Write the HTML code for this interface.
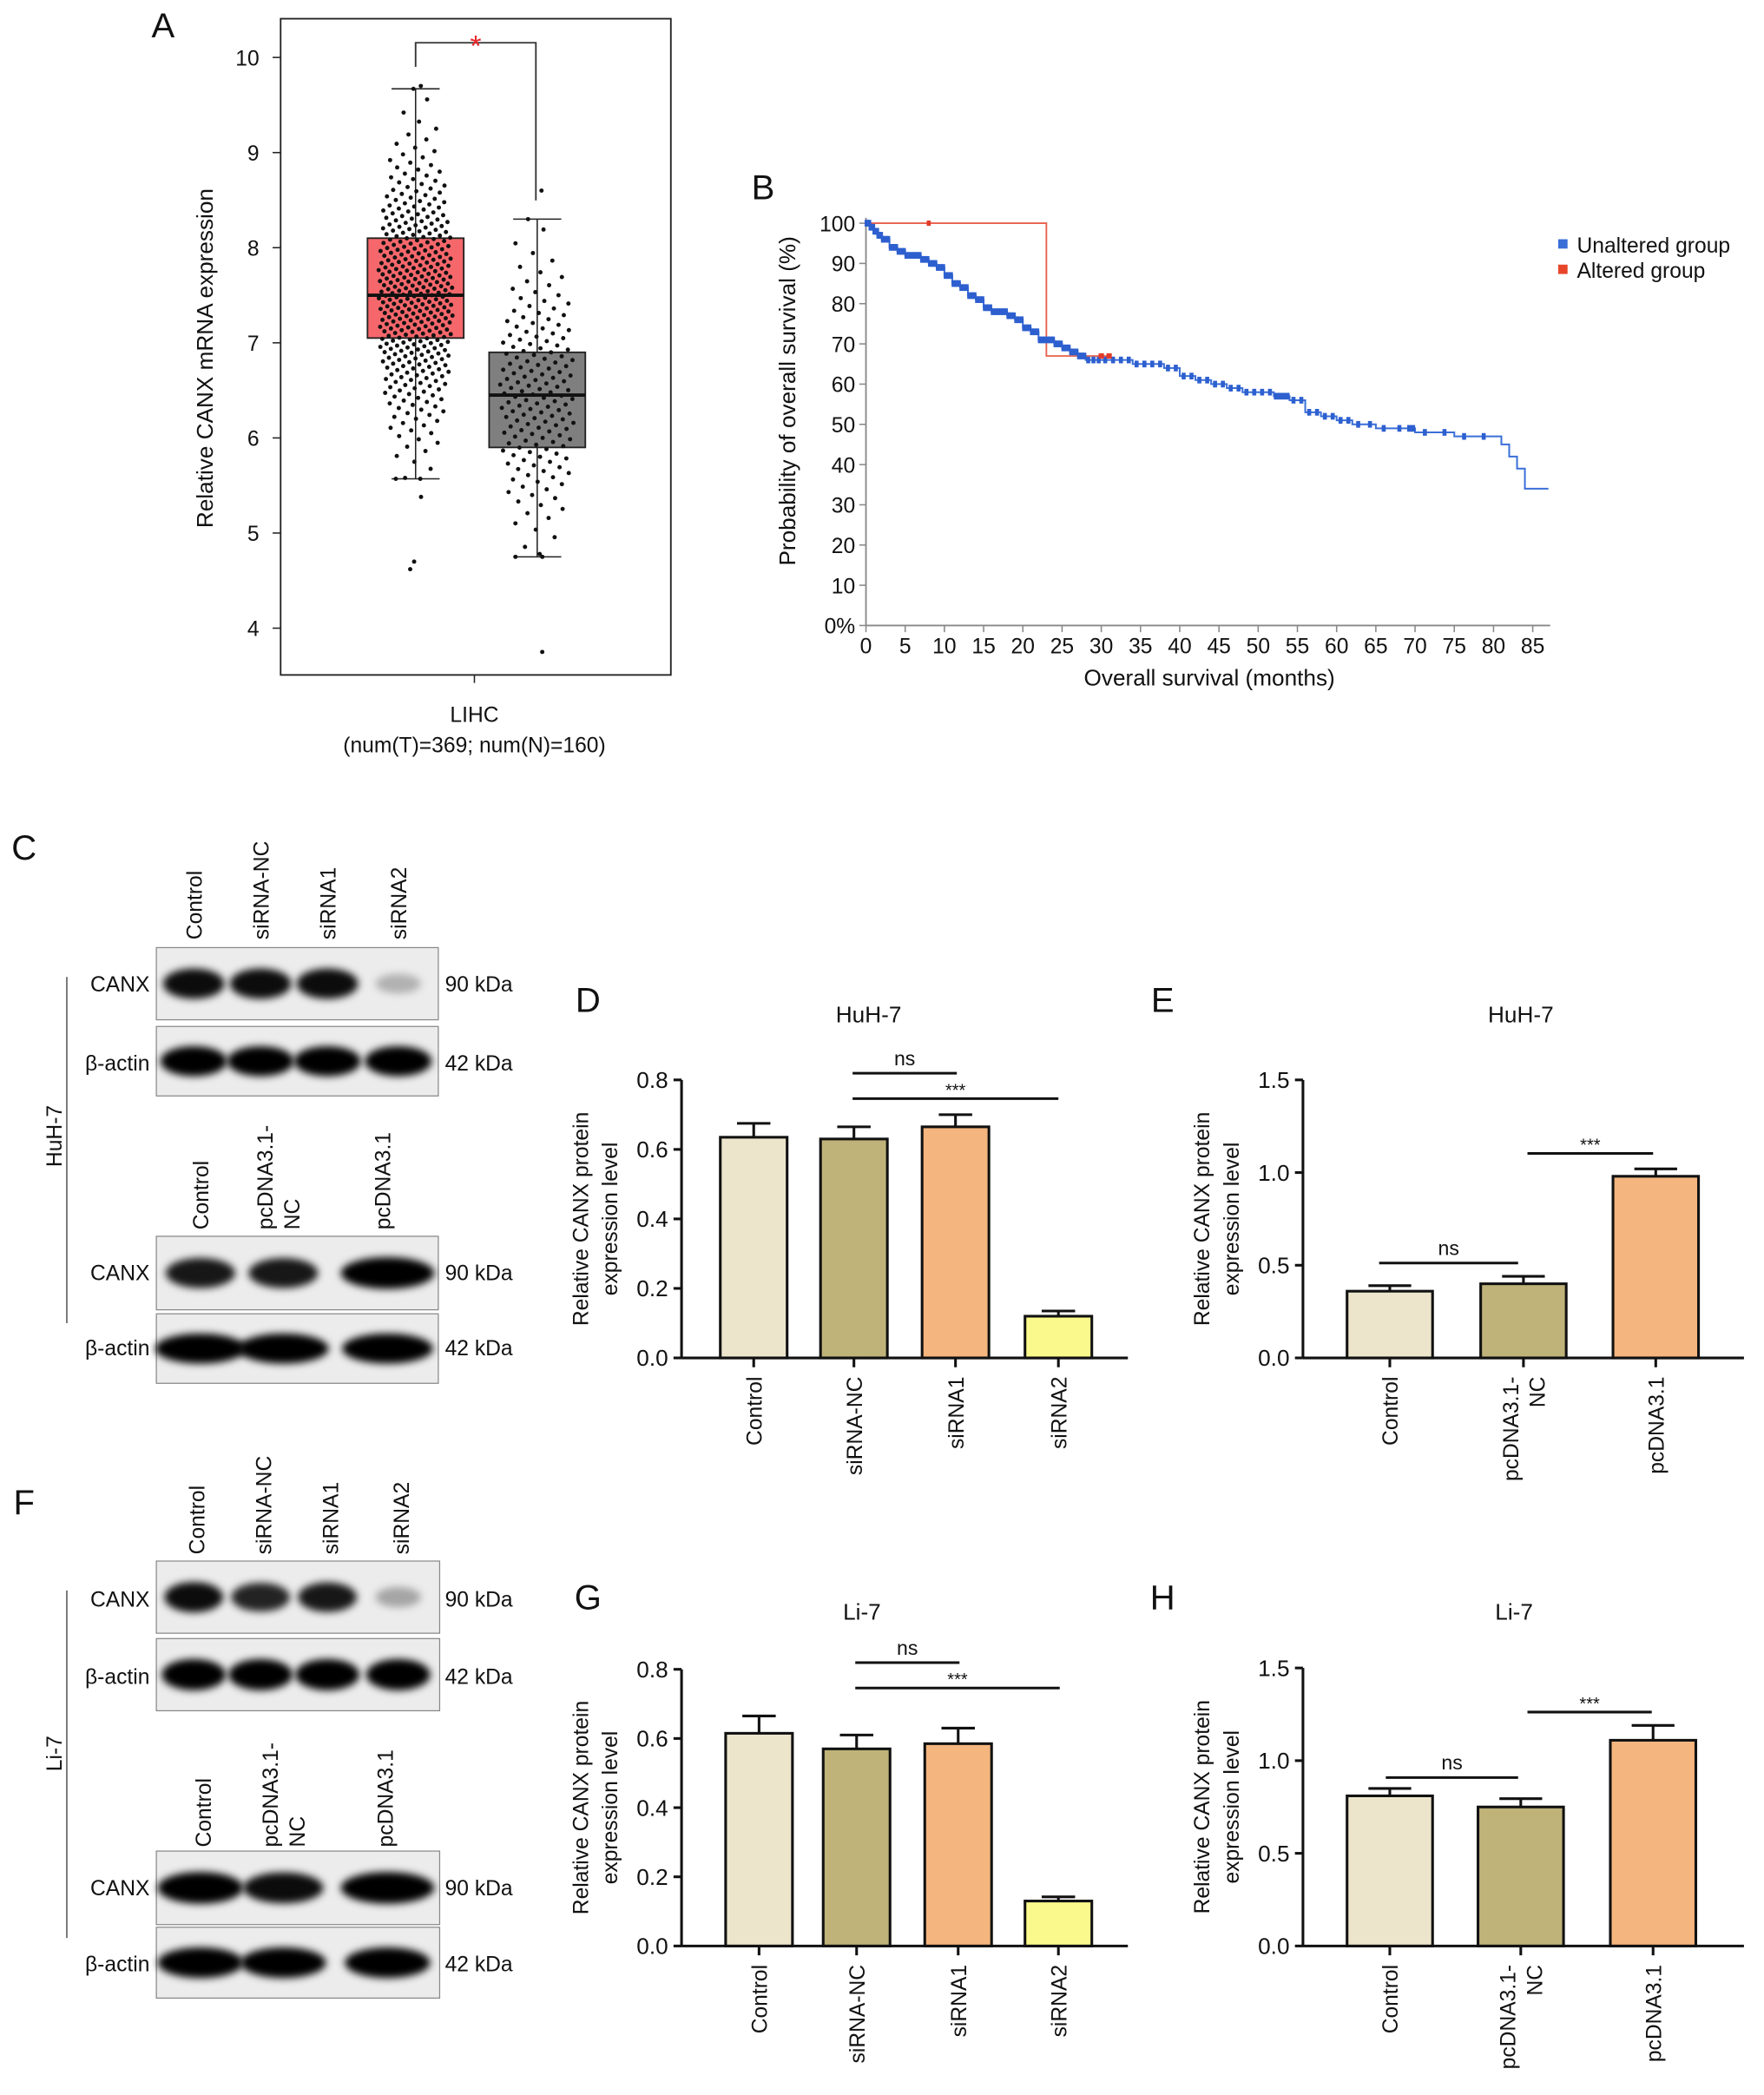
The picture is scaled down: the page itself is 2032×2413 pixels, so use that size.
<!DOCTYPE html>
<html><head><meta charset="utf-8"><style>
html,body{margin:0;padding:0;background:#fff}
svg{display:block;font-family:"Liberation Sans",Arial,sans-serif}
</style></head><body>
<svg id="fig" width="2032" height="2413" viewBox="0 0 1320 1567.5" xmlns="http://www.w3.org/2000/svg">
<defs><filter id="blur" x="-20%" y="-50%" width="140%" height="200%"><feGaussianBlur stdDeviation="3"/></filter></defs>
<rect width="1320" height="1567.5" fill="#fff"/>
<g id="root"></g>
</svg>
<script>
// ---------- Panel A data ----------
const aGroups=["Tumor","Normal"];
const aQ1=[7.05,5.9], aMed=[7.5,6.45], aQ3=[8.1,6.9], aLo=[5.57,4.75], aHi=[9.67,8.3];
const aN=[369,160];
const aOutliers=[[4.7,4.62,5.38,9.7],[3.75,8.6,4.78]];
// ---------- Panel B data ----------
const bMonths=[0,0.5,1,1.5,2,3,4,5,6,7,8,9,10,11,12,13,14,15,16,17,18,19,20,21,22,23,24,25,26,27,28,30,32,34,36,38,40,42,44,46,48,50,52,53,54,56,58,60,62,65,69,70,75,80,81,82,83,84,87];
const bSurv  =[100,99,98,97,96,94,93,92,92,91,90,89,87,85,84,82,81,79,78,78,77,76,74,73,71,71,70,69,68,67,66,66,66,65,65,64,62,61,60,59,58,58,57,57,56,53,52,51,50,49,49,48,47,47,45,42,39,34,34];
const bAltMonths=[0,23,23,31];
const bAltSurv=[100,100,67,67];
// ---------- bar chart data ----------
const dCats=["Control","siRNA-NC","siRNA1","siRNA2"];
const dVals=[0.635,0.63,0.665,0.12], dErr=[0.04,0.035,0.035,0.015];
const eCats=["Control","pcDNA3.1-\nNC","pcDNA3.1"];
const eVals=[0.36,0.40,0.98], eErr=[0.03,0.04,0.04];
const gVals=[0.615,0.57,0.585,0.13], gErr=[0.05,0.04,0.045,0.012];
const hVals=[0.81,0.75,1.11], hErr=[0.04,0.045,0.08];
const dTicks=["0.0","0.2","0.4","0.6","0.8"];
const eTicks=["0.0","0.5","1.0","1.5"];

const NS="http://www.w3.org/2000/svg";
const root=document.getElementById('root');
function el(tag,attrs,parent,text){const e=document.createElementNS(NS,tag);for(const k in attrs)e.setAttribute(k,attrs[k]);if(text!==undefined)e.textContent=text;(parent||root).appendChild(e);return e;}
function txt(x,y,s,size,anchor,parent,extra){const t=el('text',Object.assign({x:x,y:y,'font-size':size,'text-anchor':anchor||'middle',fill:'#111'},extra||{}),parent,s);return t;}

// ===== Panel A =====
const gA=el('g',{});

let t=txt(122,28,"A",26,'middle',gA);
el('rect',{x:210,y:14,width:292,height:491,fill:'none',stroke:'#222','stroke-width':1.2},gA);
const ayA=v=>470-(v-4)*71.17;
for(let v=4;v<=10;v++){el('line',{x1:204,x2:210,y1:ayA(v),y2:ayA(v),stroke:'#222'},gA);t=txt(194,ayA(v)+6,String(v),16,'end',gA);}
t=txt(0,0,"Relative CANX mRNA expression",17,'middle',gA,{transform:'translate(159,268) rotate(-90)'});
el('line',{x1:355,x2:355,y1:505,y2:511,stroke:'#222'},gA);
t=txt(355,540,"LIHC",16,'middle',gA);
t=txt(355,563,"(num(T)="+aN[0]+"; num(N)="+aN[1]+")",16,'middle',gA);
const aCx=[311,402], aFill=['#f6676b','#7f7f7f'];
function qn(p){const a=[2.50662823884,-18.61500062529,41.39119773534,-25.44106049637],b=[-8.47351093090,23.08336743743,-21.06224101826,3.13082909833];const y=p-0.5;if(Math.abs(y)<0.42){const r=y*y;return y*(((a[3]*r+a[2])*r+a[1])*r+a[0])/((((b[3]*r+b[2])*r+b[1])*r+b[0])*r+1);}let r=p<0.5?p:1-p;r=Math.log(-Math.log(r));const c=[0.3374754822726147,0.9761690190917186,0.1607979714918209,0.0276438810333863,0.0038405729373609,0.0003951896511919,0.0000321767881768,0.0000002888167364,0.0000003960315187];let x=c[0]+r*(c[1]+r*(c[2]+r*(c[3]+r*(c[4]+r*(c[5]+r*(c[6]+r*(c[7]+r*c[8])))))));return p<0.5?-x:x;}
aGroups.forEach((g,i)=>{
  const cx=aCx[i];
  const box=el('rect',{x:cx-36,y:ayA(aQ3[i]),width:72,height:ayA(aQ1[i])-ayA(aQ3[i]),fill:aFill[i],stroke:'#222','stroke-width':1.2},gA);
  
  el('line',{x1:cx-36,x2:cx+36,y1:ayA(aMed[i]),y2:ayA(aMed[i]),stroke:'#111','stroke-width':2.5},gA);
  el('line',{x1:cx,x2:cx,y1:ayA(aQ3[i]),y2:ayA(aHi[i]),stroke:'#222'},gA);
  el('line',{x1:cx,x2:cx,y1:ayA(aQ1[i]),y2:ayA(aLo[i]),stroke:'#222'},gA);
  el('line',{x1:cx-18,x2:cx+18,y1:ayA(aHi[i]),y2:ayA(aHi[i]),stroke:'#222'},gA);
  el('line',{x1:cx-18,x2:cx+18,y1:ayA(aLo[i]),y2:ayA(aLo[i]),stroke:'#222'},gA);
  const sd=(aQ3[i]-aQ1[i])/1.35;
  const n=aN[i];
  for(let k=0;k<n;k++){
    let v=aMed[i]+qn((k+0.5)/n)*sd;
    v=Math.max(aLo[i],Math.min(aHi[i],v));
    const jx=((k*0.61803)%1-0.5)*2*28*Math.exp(-Math.pow((v-aMed[i])/(2.2*sd),2)*0.5);
    el('circle',{cx:cx+jx,cy:ayA(v),r:1.6,fill:'#111'},gA);
  }
  aOutliers[i].forEach(v=>{el('circle',{cx:cx+((v*37)%10-5),cy:ayA(v),r:1.6,fill:'#111'},gA);});
});
el('polyline',{points:"311,50 311,32 401,32 401,150",fill:'none',stroke:'#333','stroke-width':1.2},gA);
t=txt(356,42,"*",22,'middle',gA,{fill:'#e8262b'});

// ===== Panel B =====
const gB=el('g',{});

t=txt(571,149,"B",26,'middle',gB);
const bx=m=>648+m*5.87, by=s=>468-s*3.01;
el('line',{x1:648,x2:648,y1:163,y2:468,stroke:'#888','stroke-width':1.2},gB);
el('line',{x1:648,x2:1160,y1:468,y2:468,stroke:'#888','stroke-width':1.2},gB);
for(let s=0;s<=100;s+=10){el('line',{x1:643,x2:648,y1:by(s),y2:by(s),stroke:'#888'},gB);t=txt(640,by(s)+6,s===0?"0%":String(s),16,'end',gB);}
for(let m=0;m<=85;m+=5){el('line',{x1:bx(m),x2:bx(m),y1:468,y2:473,stroke:'#888'},gB);t=txt(bx(m),489,String(m),16,'middle',gB);}
t=txt(905,513,"Overall survival (months)",17,'middle',gB);
t=txt(0,0,"Probability of overall survival (%)",17,'middle',gB,{transform:'translate(595,300) rotate(-90)'});
function stepPts(ms,ss){let p=[];for(let i=0;i<ms.length;i++){if(i>0)p.push(bx(ms[i])+','+by(ss[i-1]));p.push(bx(ms[i])+','+by(ss[i]));}return p.join(' ');}
let ln=el('polyline',{points:stepPts(bAltMonths,bAltSurv),fill:'none',stroke:'#e8604a','stroke-width':1.2},gB);

ln=el('polyline',{points:stepPts(bMonths,bSurv),fill:'none',stroke:'#3a6fd8','stroke-width':1.3},gB);

for(let i=0;i<bMonths.length-1;i++){
  const m0=bMonths[i],m1=bMonths[i+1];const k=m0<30?3:(m0>=80?0:2);
  for(let j=0;j<k;j++){const m=m0+(m1-m0)*(j+0.5)/k;el('rect',{x:bx(m)-1.5,y:by(bSurv[i])-2.5,width:3,height:5,fill:'#2d5fcf'},gB);}
}
el('rect',{x:bx(8)-1.5,y:by(100)-2,width:3,height:4,fill:'#e23b2a'},gB);
el('rect',{x:bx(30)-2,y:by(67)-2,width:4,height:4,fill:'#e23b2a'},gB);
el('rect',{x:bx(31)-2,y:by(67)-2,width:4,height:4,fill:'#e23b2a'},gB);
let lg=el('g',{},gB);
el('rect',{x:1166,y:179,width:7,height:7,fill:'#3a6fd8'},lg);txt(1180,189,"Unaltered group",16,'start',lg);
lg=el('g',{},gB);
el('rect',{x:1166,y:198,width:7,height:7,fill:'#e8462a'},lg);txt(1180,208,"Altered group",16,'start',lg);

// ===== Western blots =====
function blot(name,x,y,w,h,centers,intens,widths){
  const g=el('g',{});
  el('rect',{x:x,y:y,width:w,height:h,fill:'#ececec',stroke:'#888','stroke-width':0.8},g);
  centers.forEach((c,i)=>{el('ellipse',{cx:c,cy:y+h/2,rx:widths[i]/2,ry:h*0.18*(0.6+0.6*intens[i]),fill:'#000','fill-opacity':Math.min(1,intens[i]),filter:'url(#blur)'},g);});
  return g;
}
function rotLabel(x,y,s,name){const g=el('g',{});
  const lines=s.split('\n');lines.forEach((l,i)=>txt(0,0,l,16,'start',g,{transform:`translate(${x+i*20},${y}) rotate(-90)`}));return g;}
function side(y,s,kda){t=txt(112,y+6,s,16,'end');
  t=txt(333,y+6,kda,16,'start');}
t=txt(18,643,"C",26,'middle');
t=txt(18,1133,"F",26,'middle');
const c4=[145,195,245,298], c3=[150,212,290];
[["Control",0],["siRNA-NC",1],["siRNA1",2],["siRNA2",3]].forEach(([s,i])=>{rotLabel(c4[i]+6,703,s,'lane-label');rotLabel(c4[i]+8,1163,s,'lane-label');});
rotLabel(c3[0]+6,920,"Control",'lane-label');rotLabel(c3[1]-8,920,"pcDNA3.1-\nNC",'lane-label');rotLabel(c3[2]+2,920,"pcDNA3.1",'lane-label');
rotLabel(c3[0]+8,1382,"Control",'lane-label');rotLabel(c3[1]-4,1382,"pcDNA3.1-\nNC",'lane-label');rotLabel(c3[2]+4,1382,"pcDNA3.1",'lane-label');
blot('blot-huh7-canx-sirna',117,709,211,54,c4,[0.95,0.95,0.95,0.25],[46,46,46,34]);side(736,"CANX","90 kDa");
blot('blot-huh7-actin-sirna',117,768,211,52,c4,[1,1,1,1],[50,50,50,50]);side(795,"β-actin","42 kDa");
blot('blot-huh7-canx-pcdna',117,925,211,55,c3,[0.9,0.9,1],[52,52,70]);side(952,"CANX","90 kDa");
blot('blot-huh7-actin-pcdna',117,983,211,52,c3,[1,1,1],[68,68,68]);side(1008,"β-actin","42 kDa");
blot('blot-li7-canx-sirna',117,1168,212,54,c4,[0.95,0.85,0.9,0.3],[44,44,44,34]);side(1196,"CANX","90 kDa");
blot('blot-li7-actin-sirna',117,1226,212,54,c4,[1,1,1,1],[48,48,48,48]);side(1254,"β-actin","42 kDa");
blot('blot-li7-canx-pcdna',117,1385,212,55,c3,[1,0.95,1],[64,60,70]);side(1412,"CANX","90 kDa");
blot('blot-li7-actin-pcdna',117,1442,212,53,c3,[1,1,1],[64,64,64]);side(1469,"β-actin","42 kDa");
el('line',{x1:50,x2:50,y1:731,y2:990,stroke:'#555'});
t=txt(0,0,"HuH-7",16,'middle',null,{transform:'translate(46,850) rotate(-90)'});
el('line',{x1:50,x2:50,y1:1190,y2:1450,stroke:'#555'});
t=txt(0,0,"Li-7",16,'middle',null,{transform:'translate(46,1312) rotate(-90)'});

// ===== Bar charts =====
const barColors=['#ece5cc','#bfb37a','#f4b57e','#fafa8c'];
function barChart(o){
  const g=el('g',{});
  const ys=v=>o.y0-(v/o.max)*(o.y0-o.yTop);
  t=txt(o.lx,o.ly,o.letter,26,'middle',g);
  t=txt(o.tx,o.ly+8,o.title,17,'middle',g);
  el('line',{x1:o.ax,x2:o.ax,y1:o.yTop,y2:o.y0,stroke:'#111','stroke-width':2},g);
  el('line',{x1:o.ax,x2:o.xEnd,y1:o.y0,y2:o.y0,stroke:'#111','stroke-width':2},g);
  o.ticks.forEach(s=>{const v=parseFloat(s);el('line',{x1:o.ax-6,x2:o.ax,y1:ys(v),y2:ys(v),stroke:'#111','stroke-width':2},g);
    t=txt(o.ax-10,ys(v)+6,s,17,'end',g);});
  t=txt(0,0,"Relative CANX protein",16,'middle',g,{transform:`translate(${o.ax-70},${(o.y0+o.yTop)/2}) rotate(-90)`});
  
  txt(0,0,"expression level",16,'middle',g,{transform:`translate(${o.ax-48},${(o.y0+o.yTop)/2}) rotate(-90)`});
  o.vals.forEach((v,i)=>{
    const cx=o.centers[i];
    el('line',{x1:cx,x2:cx,y1:ys(v),y2:ys(v+o.err[i]),stroke:'#111','stroke-width':2},g);
    el('line',{x1:cx-o.bw/4,x2:cx+o.bw/4,y1:ys(v+o.err[i]),y2:ys(v+o.err[i]),stroke:'#111','stroke-width':2},g);
    const b=el('rect',{x:cx-o.bw/2,y:ys(v),width:o.bw,height:o.y0-ys(v),fill:barColors[i],stroke:'#111','stroke-width':2},g);
    
    el('line',{x1:cx,x2:cx,y1:o.y0,y2:o.y0+7,stroke:'#111','stroke-width':2},g);
    const lines=o.cats[i].split('\n');
    lines.forEach((l,j)=>{t=txt(0,0,l,16,'end',g,{transform:`translate(${cx+6+(j-(lines.length-1)/2)*20},${o.y0+14}) rotate(-90)`});
      });
  });
  o.sig.forEach(s=>{el('line',{x1:s[0],x2:s[1],y1:s[2],y2:s[2],stroke:'#111','stroke-width':2},g);
    t=txt((s[0]+s[1])/2,s[2]-(s[3]==='ns'?6:2),s[3],s[3]==='ns'?15:13,'middle',g);});
}
barChart({name:'panel-d-bar-chart',letter:'D',lx:440,ly:757,title:'HuH-7',tx:650,ax:510,xEnd:844,y0:1016,yTop:808,max:0.8,ticks:dTicks,vals:dVals,err:dErr,cats:dCats,centers:[564,639,715,792],bw:50,sig:[[638,716,803,'ns'],[638,792,822,'***']]});
barChart({name:'panel-e-bar-chart',letter:'E',lx:870,ly:757,title:'HuH-7',tx:1138,ax:975,xEnd:1305,y0:1016,yTop:808,max:1.5,ticks:eTicks,vals:eVals,err:eErr,cats:eCats,centers:[1040,1140,1239],bw:64,sig:[[1032,1136,945,'ns'],[1143,1237,863,'***']]});
barChart({name:'panel-g-bar-chart',letter:'G',lx:440,ly:1204,title:'Li-7',tx:645,ax:510,xEnd:844,y0:1456,yTop:1249,max:0.8,ticks:dTicks,vals:gVals,err:gErr,cats:dCats,centers:[568,641,717,792],bw:50,sig:[[640,718,1244,'ns'],[640,793,1263,'***']]});
barChart({name:'panel-h-bar-chart',letter:'H',lx:870,ly:1204,title:'Li-7',tx:1133,ax:975,xEnd:1305,y0:1456,yTop:1248,max:1.5,ticks:eTicks,vals:hVals,err:hErr,cats:eCats,centers:[1040,1138,1237],bw:64,sig:[[1037,1136,1330,'ns'],[1143,1236,1281,'***']]});
</script>
</body></html>
